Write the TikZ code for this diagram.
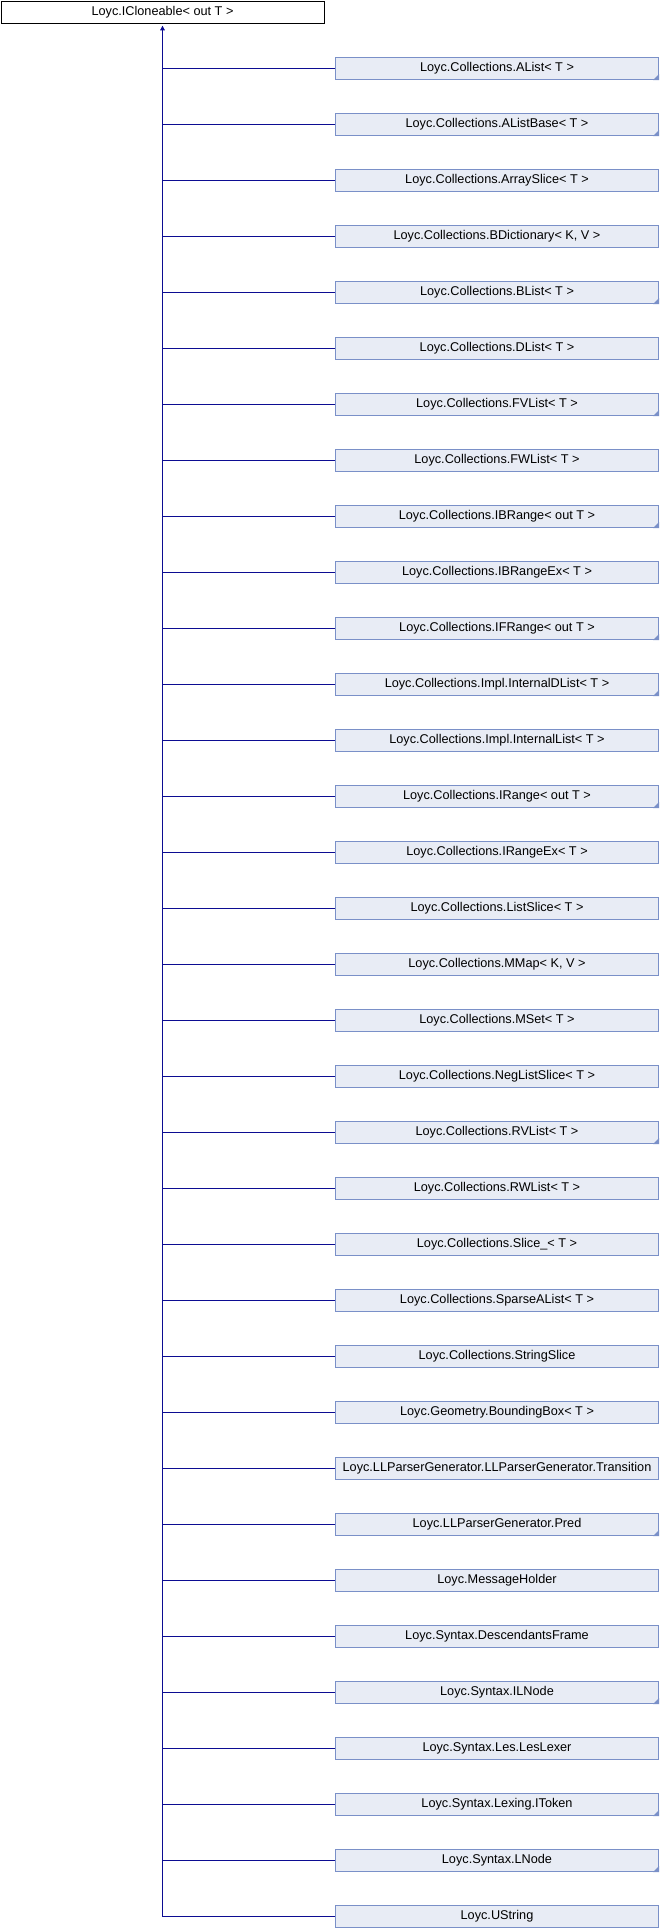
\documentclass[tikz,border=0pt]{standalone}
\usepackage{fontspec}
\setmainfont{Liberation Sans}
\usetikzlibrary{arrows.meta}
\definecolor{edgeblue}{HTML}{0C0C92}
\definecolor{boxfill}{HTML}{E8ECF5}
\definecolor{boxline}{HTML}{7A90C8}
\tikzset{
  basebox/.style={draw=black, fill=white, line width=1pt, minimum width=323pt, minimum height=22pt, inner sep=0pt,
    font=\fontsize{12.7}{14}\selectfont},
  kidbox/.style={draw=boxline, fill=boxfill, line width=1pt, minimum width=323pt, minimum height=22pt, inner sep=0pt,
    font=\fontsize{12.7}{14}\selectfont},
  edge/.style={draw=edgeblue, line width=1pt},
  tipedge/.style={edge, -{Triangle[width=4.6pt,length=4.6pt]}}
}
\begin{document}
\begin{tikzpicture}[x=1pt,y=1pt]
\useasboundingbox (0,0) rectangle (660,-1928);
\node[basebox] (top) at (162.5,-12) {Loyc.ICloneable< out T >};
\foreach \i/\t/\m in {
0/{Loyc.Collections.AList< T >}/1,
1/{Loyc.Collections.AListBase< T >}/1,
2/{Loyc.Collections.ArraySlice< T >}/0,
3/{Loyc.Collections.BDictionary< K, V >}/0,
4/{Loyc.Collections.BList< T >}/1,
5/{Loyc.Collections.DList< T >}/0,
6/{Loyc.Collections.FVList< T >}/1,
7/{Loyc.Collections.FWList< T >}/0,
8/{Loyc.Collections.IBRange< out T >}/1,
9/{Loyc.Collections.IBRangeEx< T >}/0,
10/{Loyc.Collections.IFRange< out T >}/1,
11/{Loyc.Collections.Impl.InternalDList< T >}/1,
12/{Loyc.Collections.Impl.InternalList< T >}/0,
13/{Loyc.Collections.IRange< out T >}/1,
14/{Loyc.Collections.IRangeEx< T >}/0,
15/{Loyc.Collections.ListSlice< T >}/0,
16/{Loyc.Collections.MMap< K, V >}/0,
17/{Loyc.Collections.MSet< T >}/0,
18/{Loyc.Collections.NegListSlice< T >}/0,
19/{Loyc.Collections.RVList< T >}/1,
20/{Loyc.Collections.RWList< T >}/0,
21/{Loyc.Collections.Slice\_< T >}/0,
22/{Loyc.Collections.SparseAList< T >}/0,
23/{Loyc.Collections.StringSlice}/0,
24/{Loyc.Geometry.BoundingBox< T >}/0,
25/{Loyc.LLParserGenerator.LLParserGenerator.Transition}/0,
26/{Loyc.LLParserGenerator.Pred}/1,
27/{Loyc.MessageHolder}/0,
28/{Loyc.Syntax.DescendantsFrame}/0,
29/{Loyc.Syntax.ILNode}/1,
30/{Loyc.Syntax.Les.LesLexer}/0,
31/{Loyc.Syntax.Lexing.IToken}/1,
32/{Loyc.Syntax.LNode}/1,
33/{Loyc.UString}/0}{
  \node[kidbox] (c\i) at (497,{-(68.5+56*\i)}) {\t};
  \ifnum\m=1
    \fill[boxline] (c\i.south east) -- ++(0,6) -- ++(-6,-6) -- cycle;
  \fi
  \draw[edge] (c\i.west) -- (c\i.west -| top.south);
}
\draw[tipedge] (c33.west -| top.south) -- ([yshift=-2.2pt]top.south);
\end{tikzpicture}
\end{document}
